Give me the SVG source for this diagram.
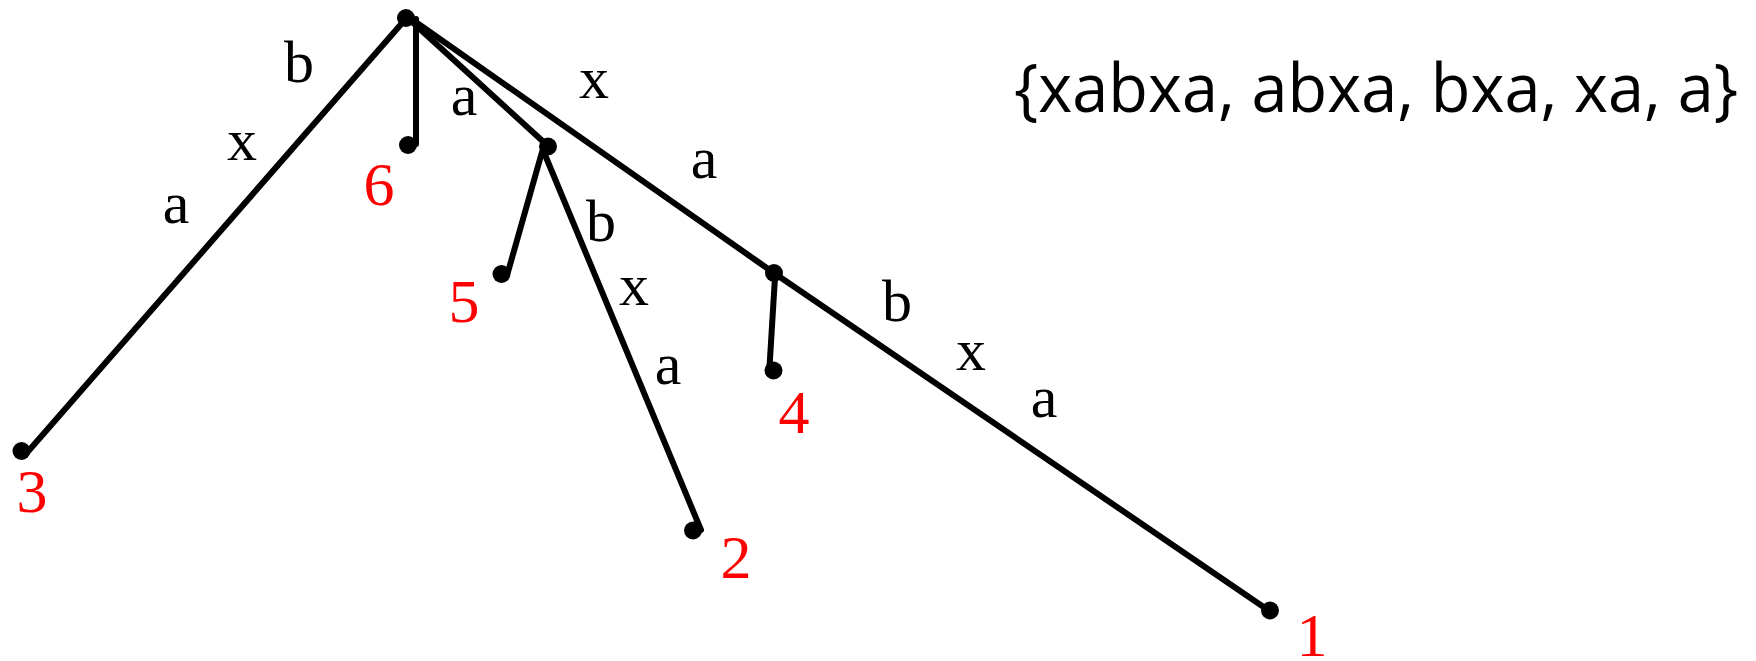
<svg xmlns="http://www.w3.org/2000/svg" width="1756" height="661" viewBox="0 0 1756 661">
<style>
.e{stroke:#000;stroke-width:6;fill:none;stroke-linecap:round}
.d{fill:#000}
.lbl{font-family:"Liberation Serif","Times New Roman",serif;font-size:60px;fill:#000;text-anchor:middle}
.num{font-family:"Liberation Serif","Times New Roman",serif;font-size:62px;fill:#f00;text-anchor:middle}
.set{font-family:"Open Sans","DejaVu Sans",sans-serif;font-size:68px;fill:#000}
</style>
<rect width="1756" height="661" fill="#fff"/>
<g id="connectors">
<line class="e" x1="403" y1="22" x2="25" y2="455"/>
<line class="e" x1="416" y1="19" x2="416" y2="144"/>
<line class="e" x1="410" y1="20" x2="548" y2="146"/>
<line class="e" x1="542" y1="152" x2="508" y2="272"/>
<line class="e" x1="543" y1="150" x2="701" y2="530"/>
<line class="e" x1="410" y1="18" x2="774" y2="273"/>
<line class="e" x1="775" y1="277" x2="769.5" y2="367"/>
<line class="e" x1="774" y1="273" x2="1268" y2="610"/>
</g>
<g id="edge-labels">
<text class="lbl" x="299" y="82">b</text>
<text class="lbl" x="242" y="160">x</text>
<text class="lbl" x="176" y="223">a</text>
<text class="lbl" x="464" y="115">a</text>
<text class="lbl" x="594" y="98">x</text>
<text class="lbl" x="704" y="178">a</text>
<text class="lbl" x="601" y="241">b</text>
<text class="lbl" x="634" y="305">x</text>
<text class="lbl" x="668" y="384">a</text>
<text class="lbl" x="897" y="321">b</text>
<text class="lbl" x="971" y="370">x</text>
<text class="lbl" x="1044" y="417">a</text>
</g>
<g id="root"><circle class="d" cx="406" cy="18" r="9"/></g>
<g id="inner-a"><circle class="d" cx="548" cy="146.5" r="9"/></g>
<g id="inner-xa"><circle class="d" cx="774" cy="273" r="9"/></g>
<g id="leaf3"><circle class="d" cx="21.5" cy="451" r="9"/><text class="num" x="32" y="512">3</text></g>
<g id="leaf6"><circle class="d" cx="408" cy="145" r="9"/><text class="num" x="379" y="205">6</text></g>
<g id="leaf5"><circle class="d" cx="501.5" cy="274" r="9"/><text class="num" x="464" y="322">5</text></g>
<g id="leaf2"><circle class="d" cx="693" cy="530.5" r="9"/><text class="num" x="736" y="578">2</text></g>
<g id="leaf4"><circle class="d" cx="773.5" cy="370.5" r="9"/><text class="num" x="794" y="433">4</text></g>
<g id="leaf1"><circle class="d" cx="1270" cy="610.5" r="9"/><text class="num" x="1312" y="656">1</text></g>
<g id="suffix-set"><text class="set" x="1014" y="112" textLength="724" lengthAdjust="spacingAndGlyphs">{xabxa, abxa, bxa, xa, a}</text></g>
</svg>
